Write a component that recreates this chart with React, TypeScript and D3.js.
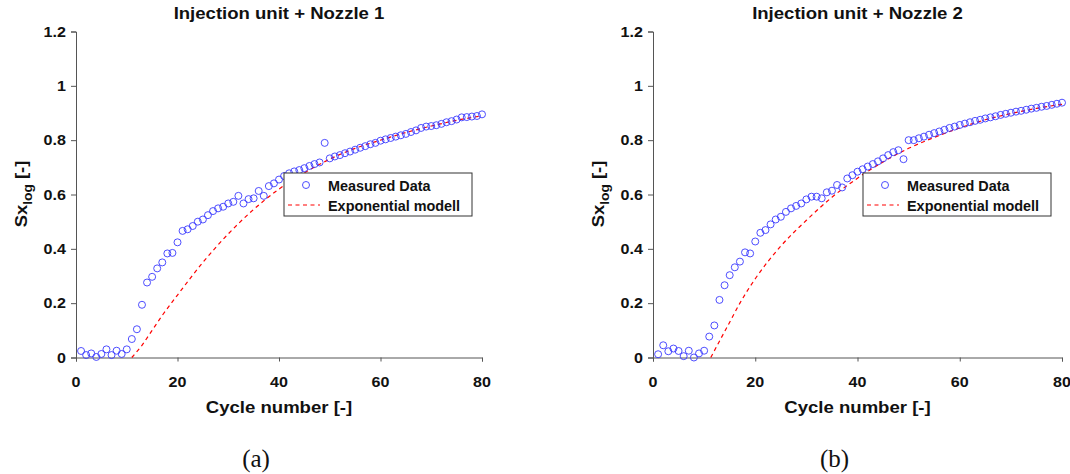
import React, { useRef, useEffect } from 'react';
import * as d3 from 'd3';

// cycle numbers on the x axis
const cycles = d3.range(1, 81);

// measured Sx_log, nozzle 1 (cycles 1..80)
const measured1 = [
  0.024, 0.009, 0.015, 0.002, 0.013, 0.03, 0.009, 0.025, 0.013, 0.03,
  0.068, 0.104, 0.194, 0.276, 0.297, 0.328, 0.35, 0.383, 0.385, 0.424,
  0.466, 0.472, 0.484, 0.5, 0.508, 0.524, 0.539, 0.549, 0.555, 0.567,
  0.573, 0.595, 0.567, 0.583, 0.586, 0.613, 0.595, 0.631, 0.641, 0.655,
  0.668, 0.678, 0.685, 0.69, 0.697, 0.705, 0.712, 0.718, 0.79, 0.733,
  0.74, 0.745, 0.752, 0.758, 0.765, 0.772, 0.778, 0.785, 0.79, 0.798,
  0.803, 0.808, 0.813, 0.818, 0.823, 0.83, 0.836, 0.845, 0.85, 0.852,
  0.855, 0.86, 0.866, 0.87, 0.876, 0.884, 0.885, 0.887, 0.889, 0.895
];

// measured Sx_log, nozzle 2 (cycles 1..80)
const measured2 = [
  0.012, 0.045, 0.023, 0.033, 0.024, 0.005, 0.025, 0.0, 0.015, 0.025,
  0.077, 0.118, 0.212, 0.266, 0.303, 0.332, 0.353, 0.387, 0.383, 0.427,
  0.459, 0.469, 0.49, 0.508, 0.518, 0.536, 0.549, 0.558, 0.567, 0.582,
  0.592, 0.592, 0.586, 0.608, 0.614, 0.635, 0.626, 0.659, 0.671, 0.684,
  0.693, 0.703, 0.712, 0.722, 0.733, 0.745, 0.756, 0.763, 0.73, 0.8,
  0.8, 0.807, 0.813, 0.82, 0.826, 0.832, 0.838, 0.845, 0.85, 0.856,
  0.861, 0.866, 0.871, 0.875, 0.88, 0.884, 0.888, 0.893, 0.897, 0.901,
  0.905, 0.908, 0.912, 0.916, 0.919, 0.923, 0.926, 0.93, 0.934, 0.938
];

// exponential model
const modelX1 = [11, 13, 15, 17, 20, 25, 30, 35, 40, 45, 50, 55, 60, 65, 70, 75, 80];
const modelY1 = [0, 0.045, 0.1, 0.155, 0.23, 0.35, 0.455, 0.545, 0.62, 0.68, 0.73, 0.77, 0.8, 0.828, 0.852, 0.873, 0.89];
const modelX2 = [11.3, 13, 15, 17, 20, 25, 30, 35, 40, 45, 50, 55, 60, 65, 70, 75, 80];
const modelY2 = [0, 0.06, 0.13, 0.2, 0.29, 0.41, 0.505, 0.59, 0.66, 0.72, 0.77, 0.81, 0.845, 0.875, 0.898, 0.917, 0.932];

const titles = ['Injection unit + Nozzle 1', 'Injection unit + Nozzle 2'];
const captions = ['(a)', '(b)'];
const legendLabels = ['Measured Data', 'Exponential modell'];
const xTicks = [0, 20, 40, 60, 80];
const yTicks = [0, 0.2, 0.4, 0.6, 0.8, 1, 1.2];

const SANS = '"Liberation Sans", Arial, sans-serif';
const SERIF = '"Liberation Serif", "Times New Roman", serif';
const STRETCH = 1.15; // figure text is a bit wide in the source

const panels = [
  { left: 76, right: 482, measured: measured1, mx: modelX1, my: modelY1, legend: [284, 173] },
  { left: 653, right: 1062, measured: measured2, mx: modelX2, my: modelY2, legend: [863, 173] }
];

export default function App() {
  const ref = useRef(null);

  useEffect(() => {
    const svg = d3.select(ref.current);
    svg.selectAll('*').remove();

    const top = 31.5;
    const bottom = 357.5;

    const addText = (g, x, y, str, size, anchor, sx = STRETCH, family = SANS, weight = 'bold') =>
      g.append('text')
        .attr('transform', `translate(${x},${y}) scale(${sx},1)`)
        .attr('text-anchor', anchor)
        .attr('font-family', family)
        .attr('font-weight', weight)
        .attr('font-size', size)
        .attr('fill', '#111')
        .text(str);

    panels.forEach((p, i) => {
      const g = svg.append('g');
      const x = d3.scaleLinear().domain([0, 80]).range([p.left, p.right]);
      const y = d3.scaleLinear().domain([0, 1.2]).range([bottom, top]);

      // axes (box off, only left and bottom)
      const xAxis = g.append('g').attr('transform', `translate(0,${bottom})`)
        .call(d3.axisBottom(x).tickValues(xTicks).tickSize(4).tickFormat(() => ''));
      const yAxis = g.append('g').attr('transform', `translate(${p.left},0)`)
        .call(d3.axisLeft(y).tickValues(yTicks).tickSize(5).tickFormat(() => ''));
      [xAxis, yAxis].forEach(a => {
        a.select('.domain').attr('stroke', '#555').attr('stroke-width', 1);
        a.selectAll('.tick line').attr('stroke', '#555');
      });

      xTicks.forEach(t => addText(g, x(t), 387, String(t), 14, 'middle'));
      yTicks.forEach(t => addText(g, p.left - 10, y(t) + 5, String(t), 14, 'end'));

      addText(g, (p.left + p.right) / 2, 19, titles[i], 16, 'middle', 1.16);
      addText(g, (p.left + p.right) / 2, 413, 'Cycle number [-]', 16, 'middle', 1.16);
      addText(g, (p.left + p.right) / 2 - 23, 467, captions[i], 25, 'middle', 1, SERIF, 'normal');

      // y label with subscript
      const yl = g.append('text')
        .attr('transform', `translate(${p.left - 49},194) rotate(-90) scale(${STRETCH},1)`)
        .attr('text-anchor', 'middle')
        .attr('font-family', SANS)
        .attr('font-weight', 'bold')
        .attr('font-size', 16)
        .attr('fill', '#111');
      yl.append('tspan').text('Sx');
      yl.append('tspan').attr('font-size', 12).attr('dy', 5).text('log');
      yl.append('tspan').attr('dy', -5).text(' [-]');

      // model curve
      const line = d3.line()
        .curve(d3.curveMonotoneX)
        .x(d => x(d[0]))
        .y(d => y(d[1]));
      g.append('path')
        .datum(p.mx.map((v, k) => [v, p.my[k]]))
        .attr('fill', 'none')
        .attr('stroke', '#ff0000')
        .attr('stroke-width', 1.2)
        .attr('stroke-dasharray', '4,3.5')
        .attr('d', line);

      // measured points
      g.append('g').selectAll('circle')
        .data(cycles)
        .join('circle')
        .attr('cx', c => x(c))
        .attr('cy', (c, k) => y(p.measured[k]))
        .attr('r', 3.5)
        .attr('fill', 'none')
        .attr('stroke', '#3a3aff')
        .attr('stroke-width', 0.9);

      // legend
      const [lx, ly] = p.legend;
      const lg = g.append('g').attr('transform', `translate(${lx},${ly})`);
      lg.append('rect')
        .attr('width', 188).attr('height', 43)
        .attr('fill', '#fff').attr('stroke', '#333').attr('stroke-width', 1);
      lg.append('circle')
        .attr('cx', 22).attr('cy', 12).attr('r', 3.5)
        .attr('fill', 'none').attr('stroke', '#3a3aff').attr('stroke-width', 0.9);
      lg.append('line')
        .attr('x1', 4).attr('x2', 36).attr('y1', 32).attr('y2', 32)
        .attr('stroke', '#ff0000').attr('stroke-width', 1.2).attr('stroke-dasharray', '4,3.5');
      addText(lg, 44, 18, legendLabels[0], 14, 'start', 1.03);
      addText(lg, 44, 38, legendLabels[1], 14, 'start', 1.03);
    });
  }, []);

  return (
    <svg
      ref={ref}
      width={1070}
      height={474}
      style={{ position: 'absolute', left: 0, top: 0, background: '#fff' }}
    />
  );
}
